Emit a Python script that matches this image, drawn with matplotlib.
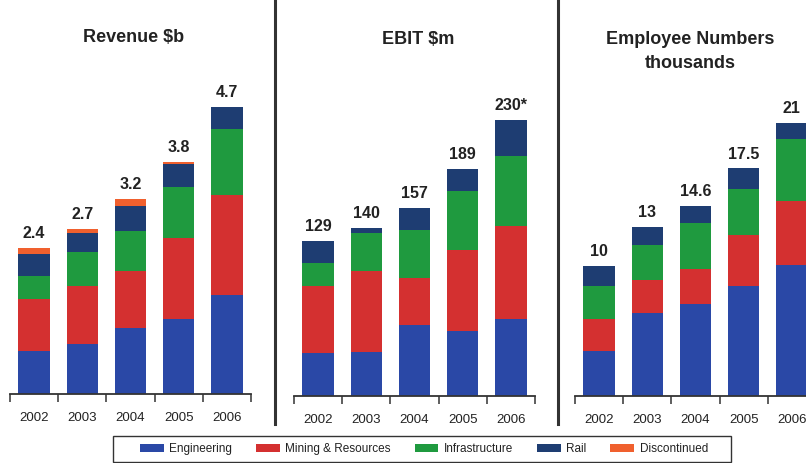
import numpy as np
import matplotlib
matplotlib.use("Agg")
import matplotlib.pyplot as plt
from matplotlib.patches import Rectangle, Patch
from matplotlib.lines import Line2D

plt.rcParams['font.family'] = ['Liberation Sans', 'DejaVu Sans']

years = ['2002', '2003', '2004', '2005', '2006']
segments = ['Engineering', 'Mining & Resources', 'Infrastructure', 'Rail', 'Discontinued']
colors = ['#2a48a6', '#d43030', '#1f9a3f', '#1e3d72', '#f0602e']

# revenue $b by segment
rev_eng = [0.70, 0.82, 1.08, 1.23, 1.62]
rev_min = [0.86, 0.95, 0.93, 1.32, 1.65]
rev_inf = [0.38, 0.55, 0.66, 0.84, 1.07]
rev_rail = [0.35, 0.32, 0.41, 0.38, 0.36]
rev_disc = [0.11, 0.06, 0.12, 0.03, 0.00]
rev_labels = ['2.4', '2.7', '3.2', '3.8', '4.7']

# EBIT $m by segment
ebit_eng = [36, 37, 59, 54, 64]
ebit_min = [56, 67, 39, 68, 78]
ebit_inf = [19, 32, 40, 49, 58]
ebit_rail = [18, 4, 19, 18, 30]
ebit_labels = ['129', '140', '157', '189', '230*']

# employees (thousands) by segment
emp_eng = [3.5, 6.4, 7.1, 8.5, 10.1]
emp_min = [2.4, 2.5, 2.7, 3.9, 4.9]
emp_inf = [2.6, 2.7, 3.5, 3.5, 4.8]
emp_rail = [1.5, 1.4, 1.3, 1.6, 1.2]
emp_labels = ['10', '13', '14.6', '17.5', '21']

W, H = 806, 463
fig = plt.figure(figsize=(W / 100, H / 100), dpi=100)
fig.patch.set_facecolor('white')

text_col = '#222222'
axis_col = '#333333'


def px_axes(x0, x1, ybase, ytop):
    return fig.add_axes([x0 / W, 1 - ybase / H, (x1 - x0) / W, (ybase - ytop) / H])


def stacked(ax, series, labels, ymax):
    x = np.arange(len(years))
    bottom = np.zeros(len(years))
    for vals, c in zip(series, colors):
        vals = np.array(vals, dtype=float)
        ax.bar(x, vals, 0.65, bottom=bottom, color=c, linewidth=0)
        bottom += vals
    for xi, tot, lab in zip(x, bottom, labels):
        ax.annotate(lab, (xi, tot), xytext=(0, 5), textcoords='offset points',
                    ha='center', va='bottom', fontsize=11.5, fontweight='bold',
                    color=text_col)
    ax.set_xlim(-0.5, len(years) - 0.5)
    ax.set_ylim(0, ymax)
    for s in ['top', 'right', 'left']:
        ax.spines[s].set_visible(False)
    ax.spines['bottom'].set_color(axis_col)
    ax.spines['bottom'].set_linewidth(1.3)
    ax.set_yticks([])
    ax.set_xticks(np.arange(len(years) + 1) - 0.5)
    ax.set_xticklabels([])
    ax.tick_params(axis='x', which='major', length=6, width=1.1, color=axis_col, direction='out')
    ax.set_xticks(x, minor=True)
    ax.set_xticklabels(years, minor=True)
    ax.tick_params(axis='x', which='minor', length=0, pad=13, labelsize=9.5, labelcolor=text_col)


ax1 = px_axes(10, 251, 394, 80)
stacked(ax1, [rev_eng, rev_min, rev_inf, rev_rail, rev_disc], rev_labels, 314 / 61.0)

ax2 = px_axes(294, 535, 396, 80)
stacked(ax2, [ebit_eng, ebit_min, ebit_inf, ebit_rail], ebit_labels, 316 / 1.2)

ax3 = px_axes(575, 816, 396, 80)
stacked(ax3, [emp_eng, emp_min, emp_inf, emp_rail], emp_labels, 316 / 13.0)

# panel titles
title_kw = dict(ha='center', va='center', fontsize=13, fontweight='bold', color=text_col)
fig.text(134 / W, 1 - 37 / H, 'Revenue $b', **title_kw)
fig.text(418 / W, 1 - 39 / H, 'EBIT $m', **title_kw)
fig.text(690 / W, 1 - 40 / H, 'Employee Numbers', **title_kw)
fig.text(690 / W, 1 - 63 / H, 'thousands', **title_kw)

# separators between panels
for xs in [275, 558]:
    fig.add_artist(Line2D([xs / W, xs / W], [1, 1 - 424 / H], transform=fig.transFigure,
                          color=axis_col, linewidth=2.2))

# legend
handles = [Patch(facecolor=c, edgecolor='none') for c in colors]
fig.legend(handles, segments, loc='center', bbox_to_anchor=(424 / W, 1 - 449 / H),
           ncol=5, frameon=False, fontsize=8.5, handlelength=2.0, handleheight=0.7,
           handletextpad=0.5, columnspacing=2.0, labelcolor=text_col)
fig.add_artist(Rectangle((113 / W, 1 - 462 / H), (731 - 113) / W, 26 / H,
                         transform=fig.transFigure, fill=False,
                         edgecolor=axis_col, linewidth=1.0))

fig.savefig('out.png', dpi=100)
